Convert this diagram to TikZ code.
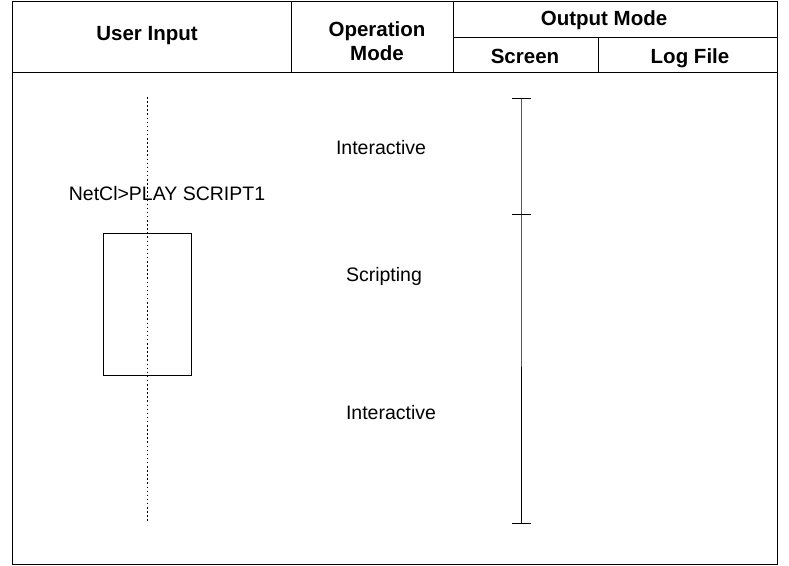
\documentclass[tikz,border=0pt]{standalone}
\usepackage{fontspec}
\setmainfont{Liberation Sans}
\usepackage{tikz}
\usetikzlibrary{positioning, calc}
\tikzstyle{head}=[font=\fontsize{20.5}{24}\selectfont\bfseries,align=center,inner sep=0pt,anchor=base]
\tikzstyle{label}=[font=\fontsize{19.5}{22}\selectfont,inner sep=0pt,anchor=base]
\tikzstyle{rule}=[line width=1pt]

\begin{document}
\begin{tikzpicture}[x=1pt,y=-1pt,line width=1pt]
\useasboundingbox (0,0) rectangle (789,565);
% frame and header grid
\draw (12,1) rectangle (777,564);
\draw (12,72) -- (777,72);
\draw (291,1) -- (291,72);
\draw (453,1) -- (453,72);
\draw (453,37) -- (777,37);
\draw (598,37) -- (598,72);
% header texts
\node [head] (user) at (147,40) {User Input};
\node [head] (opmode) at (377,60) {Operation\\Mode};
\node [head] (outmode) at (604,25) {Output Mode};
\node [head] (screen) at (525,63) {Screen};
\node [head] (logfile) at (690,63) {Log File};
% user input column
\coordinate (utop) at (147,97);
\coordinate (ubot) at (147,523);
\draw [dash pattern=on 1.5pt off 2.6pt] (utop) -- (ubot);
\node [label] (cmd) at (167,200) {NetCl>PLAY SCRIPT1};
\node [draw,rule,minimum width=88pt,minimum height=142pt,inner sep=0pt] (script) at (147,304) {};
% operation modes
\node [label] (inter1) at (381,154) {Interactive};
\node [label] (scripting) at (384,281) {Scripting};
\node [label] (inter2) at (391,419) {Interactive};
% screen output bar
\coordinate (s1) at (521,98);
\coordinate (s2) at (521,214);
\coordinate (s3) at (521,523);
\draw (s1) -- (s2) -- (s3);
\foreach \c in {s1,s2,s3}
	\draw ($(\c)+(-9,0)$) -- ($(\c)+(10,0)$);
\end{tikzpicture}
\end{document}
